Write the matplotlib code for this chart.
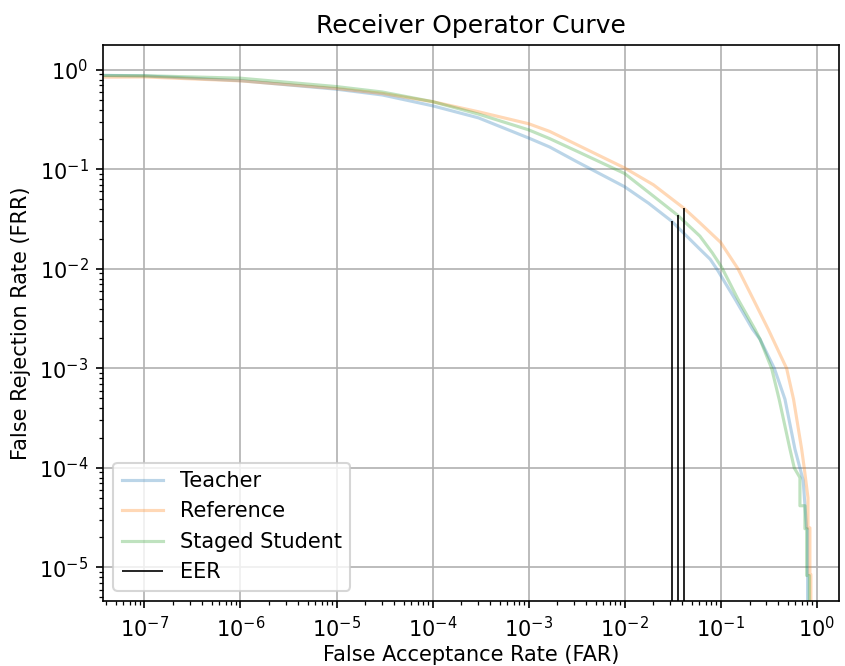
import numpy as np
import matplotlib
matplotlib.use('Agg')
import matplotlib.pyplot as plt

# ROC points (FAR, FRR)
teacher_far = [3.7e-8, 1e-7, 1e-6, 1e-5, 3e-5, 1e-4, 3e-4, 1e-3, 1.66e-3, 3.16e-3, 1e-2,
               0.0178, 0.0309, 0.0608, 0.078, 0.0944, 0.112, 0.141, 0.215, 0.257, 0.363,
               0.468, 0.594, 0.67, 0.724, 0.787, 0.805, 0.805]
teacher_frr = [0.88, 0.87, 0.78, 0.64, 0.56, 0.436, 0.33, 0.207, 0.168, 0.12, 0.067,
               0.0457, 0.0302, 0.0158, 0.0125, 0.0095, 0.0072, 0.005, 0.00248, 0.00197, 0.001,
               0.00049, 0.000155, 0.0001, 0.000075, 0.0000245, 0.0000245, 1e-7]

reference_far = [3.7e-8, 1e-7, 1e-6, 1e-5, 3e-5, 1e-4, 3e-4, 1e-3, 1.66e-3, 3.16e-3, 1e-2,
                 0.02, 0.0418, 0.0608, 0.1, 0.152, 0.218, 0.313, 0.487, 0.575, 0.698,
                 0.743, 0.813, 0.813, 0.851, 0.851, 0.871, 0.871]
reference_frr = [0.845, 0.85, 0.776, 0.65, 0.58, 0.48, 0.38, 0.288, 0.241, 0.178, 0.1035,
                 0.07, 0.0405, 0.0291, 0.0185, 0.01, 0.005, 0.00248, 0.001, 0.00049, 0.000155,
                 0.0001, 0.00005, 0.000025, 0.000025, 0.0000085, 0.0000085, 1e-7]

student_far = [3.7e-8, 1e-7, 1e-6, 1e-5, 3e-5, 1e-4, 3e-4, 1e-3, 1.66e-3, 3.16e-3, 1e-2,
               0.019, 0.0356, 0.0608, 0.082, 0.102, 0.122, 0.151, 0.2275, 0.257, 0.34,
               0.407, 0.527, 0.585, 0.67, 0.67, 0.755, 0.755, 0.787, 0.787, 0.838, 0.838]
student_frr = [0.88, 0.875, 0.826, 0.68, 0.60, 0.48, 0.36, 0.25, 0.204, 0.153, 0.091,
               0.056, 0.0347, 0.0214, 0.0145, 0.0105, 0.0075, 0.005, 0.00248, 0.00197, 0.001,
               0.00049, 0.000155, 0.0001, 0.00008, 0.0000417, 0.0000417, 0.0000245, 0.0000245,
               0.0000083, 0.0000083, 1e-7]

eer_x = [0.0311, 0.0356, 0.0418]
eer_y = [0.0302, 0.0347, 0.0405]

fig = plt.figure(figsize=(845 / 150, 666 / 150), dpi=150)
ax = fig.add_axes([103 / 845, 1 - 601 / 666, 736 / 845, 556 / 666])

ax.plot(teacher_far, teacher_frr, color='C0', alpha=0.3, lw=1.5, label='Teacher')
ax.plot(reference_far, reference_frr, color='C1', alpha=0.3, lw=1.5, label='Reference')
ax.plot(student_far, student_frr, color='C2', alpha=0.3, lw=1.5, label='Staged Student')
ax.vlines(eer_x, 1e-8, eer_y, color='black', lw=0.8, label='EER')

ax.set_xscale('log')
ax.set_yscale('log')
ax.set_xlim(3.7e-8, 1.71)
ax.set_ylim(4.6e-6, 1.78)
ax.grid()
ax.set_title('Receiver Operator Curve')
ax.set_xlabel('False Acceptance Rate (FAR)', labelpad=2)
ax.set_ylabel('False Rejection Rate (FRR)')
ax.legend(loc='lower left')

fig.savefig('out.png', dpi=150)
